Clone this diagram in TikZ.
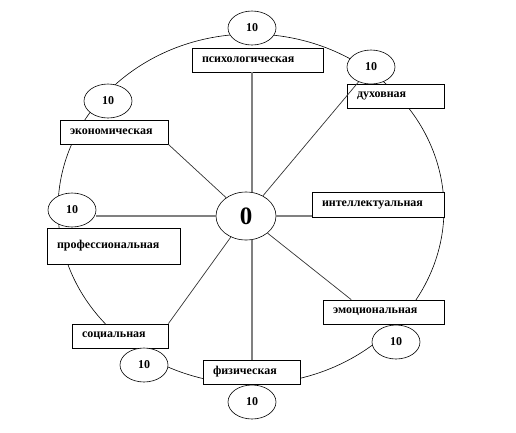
\documentclass[tikz,border=0pt]{standalone}
\usepackage{fontspec}
\setmainfont{Liberation Serif}
\usetikzlibrary{shapes.geometric}

\begin{document}
\begin{tikzpicture}[
    x=1pt, y=-1pt,
    area/.style={draw, fill=white, line width=0.8pt, minimum height=24pt, inner xsep=10pt, inner ysep=0pt, align=left, font=\fontsize{12}{14}\selectfont\bfseries},
    score/.style={draw, ellipse, fill=white, line width=0.6pt, minimum width=48pt, minimum height=34pt, inner sep=0pt, font=\fontsize{12}{14}\selectfont\bfseries},
    hub/.style={draw, ellipse, fill=white, line width=0.6pt, minimum width=60pt, minimum height=48pt, inner sep=0pt, font=\fontsize{25}{28}\selectfont\bfseries},
    spoke/.style={draw, gray!40!black, line width=0.7pt},
    axis/.style={draw, gray, line width=1.5pt}
  ]
  \useasboundingbox (0,0) rectangle (516,432);

  % --- outer ring ---
  \draw[line width=0.6pt] (251,209) ellipse [x radius=193, y radius=175];

  % --- areas ---
  \node[area, text width=111pt] (psy) at (257.5,60) {психологическая};
  \node[area, text width=77pt] (spir) at (395.5,96) {духовная};
  \node[area, text width=88pt] (econ) at (114,132) {экономическая};
  \node[area, text width=112pt, minimum height=25pt] (intel) at (378,204.5) {интеллектуальная};
  \node[area, text width=113pt, minimum height=36pt] (prof) at (113.5,246) {профессиональная};
  \node[area, text width=101pt] (emot) at (383.5,312) {эмоциональная};
  \node[area, text width=76pt] (soc) at (120,336) {социальная};
  \node[area, text width=77pt] (phys) at (251.5,372) {физическая};

  % --- scores ---
  \node[score] (top10) at (252,28) {10};
  \node[score] (spir10) at (371,67) {10};
  \node[score] (econ10) at (108,101) {10};
  \node[score] (left10) at (72,210) {10};
  \node[score] (emot10) at (396,342) {10};
  \node[score] (soc10) at (144,365) {10};
  \node[score] (bot10) at (252,402) {10};

  % --- hub and spokes ---
  \node[hub] (zero) at (246,216) {0};
  \draw[axis] (zero.north -| top10) -- (psy.south -| top10);
  \draw[axis] (zero.south -| bot10) -- (phys.north -| bot10);
  \draw[axis] (zero.west) -- (zero.west -| left10.east);
  \draw[axis] (zero.east) -- (zero.east -| intel.west);
  \draw[spoke] (zero) -- (econ.south east);
  \draw[spoke] (zero) -- (spir10);
  \draw[spoke] (zero) -- (emot.159);
  \draw[spoke] (zero) -- (soc.north east);

\end{tikzpicture}
\end{document}
